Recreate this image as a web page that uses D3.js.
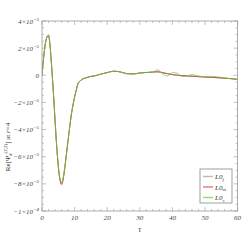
<!DOCTYPE html>
<html>
<head>
<meta charset="utf-8">
<script src="https://cdn.jsdelivr.net/npm/d3@7"></script>
<style>
  body { margin: 0; background: #fff; }
  text { font-family: "Liberation Serif", "DejaVu Serif", serif; font-style: italic; }
</style>
</head>
<body>
<div id="chart"></div>
<script>
// values in units of 1e-5
const tau = [0, 0.5, 1, 1.5, 2, 2.5, 3, 3.5, 4, 4.5, 5, 5.5, 6, 6.5, 7, 7.5, 8, 8.5, 9, 9.5, 10, 10.5, 11, 12, 13, 14, 15, 16, 18, 20, 22, 24, 26, 28, 30, 33, 34, 35.5, 37, 38.5, 40, 41.5, 43, 44.5, 46, 48, 50, 52, 55, 58, 60];
const L0f = [0, 1.3, 2.3, 2.8, 2.95, 2.1, 0.5, -1.3, -3.3, -5.2, -6.7, -7.65, -7.95, -7.6, -6.8, -5.8, -4.8, -3.8, -2.9, -2.2, -1.6, -1.1, -0.65, -0.35, -0.22, -0.15, -0.08, -0.05, 0.08, 0.2, 0.3, 0.25, 0.12, 0.1, 0.17, 0.22, 0.24, 0.25, 0.18, 0.12, 0.05, 0.0, -0.02, -0.05, -0.07, -0.1, -0.13, -0.15, -0.2, -0.25, -0.3];
const L0m = [0, 1.3, 2.3, 2.8, 2.95, 2.1, 0.5, -1.3, -3.3, -5.2, -6.7, -7.7, -8.05, -7.65, -6.8, -5.8, -4.8, -3.8, -2.9, -2.2, -1.6, -1.1, -0.65, -0.35, -0.22, -0.15, -0.08, -0.05, 0.08, 0.2, 0.3, 0.25, 0.12, 0.1, 0.17, 0.22, 0.24, 0.26, 0.2, 0.12, 0.05, 0.0, -0.02, -0.05, -0.07, -0.1, -0.13, -0.15, -0.2, -0.25, -0.3];
const L0s = [0, 1.3, 2.3, 2.8, 2.95, 2.1, 0.5, -1.3, -3.3, -5.2, -6.7, -7.6, -7.9, -7.55, -6.8, -5.8, -4.8, -3.8, -2.9, -2.2, -1.6, -1.1, -0.65, -0.35, -0.22, -0.15, -0.08, -0.05, 0.08, 0.2, 0.3, 0.25, 0.12, 0.1, 0.17, 0.22, 0.25, 0.4, 0.1, -0.05, 0.2, 0.15, -0.1, -0.05, 0.05, -0.05, -0.1, -0.08, -0.15, -0.25, -0.3];

const xTicks = [0, 10, 20, 30, 40, 50, 60];
const yTicks = [4, 2, 0, -2, -4, -6, -8, -10];
const yTickLabels = [["4\u00d710", "\u22125"], ["2\u00d710", "\u22125"], ["0", ""], ["\u22122\u00d710", "\u22125"], ["\u22124\u00d710", "\u22125"], ["\u22126\u00d710", "\u22125"], ["\u22128\u00d710", "\u22125"], ["\u22121\u00d710", "\u22124"]];

const seriesNames = [["L0", "f"], ["L0", "m"], ["L0", "s"]];
const seriesData = [L0f, L0m, L0s];
const colors = ["#aaaaaa", "#e06060", "#70dd40"];
const lineColors = ["#999999", "#c84848", "#66cc33"];

const W = 251, H = 240;
const margin = { top: 21, right: 13.4, bottom: 29, left: 42 };
const width = W - margin.left - margin.right;
const height = H - margin.top - margin.bottom;

const svg = d3.select("#chart").append("svg")
  .attr("width", W).attr("height", H);
const g = svg.append("g").attr("transform", `translate(${margin.left},${margin.top})`);

const x = d3.scaleLinear().domain([0, 60]).range([0, width]);
const y = d3.scaleLinear().domain([-10, 4]).range([height, 0]);

g.append("defs").append("clipPath").attr("id", "clip")
  .append("rect").attr("width", width).attr("height", height);

// lines
const line = d3.line().x((d, i) => x(tau[i])).y(d => y(d)).curve(d3.curveMonotoneX);
seriesData.forEach((s, k) => {
  g.append("path")
    .datum(s)
    .attr("clip-path", "url(#clip)")
    .attr("fill", "none")
    .attr("stroke", lineColors[k])
    .attr("stroke-opacity", k == 2 ? 0.75 : 0.9)
    .attr("stroke-width", 1)
    .attr("d", line);
});

// frame
const frameColor = "#999";
g.append("rect").attr("width", width).attr("height", height)
  .attr("fill", "none").attr("stroke", frameColor).attr("stroke-width", 0.8);

// x ticks (bottom + top, inward)
const xMinor = d3.range(0, 61, 2);
xMinor.forEach(v => {
  const major = v % 10 == 0;
  const len = major ? 4 : 2;
  g.append("line").attr("x1", x(v)).attr("x2", x(v)).attr("y1", height).attr("y2", height - len)
    .attr("stroke", frameColor).attr("stroke-width", 0.6);
  g.append("line").attr("x1", x(v)).attr("x2", x(v)).attr("y1", 0).attr("y2", len)
    .attr("stroke", frameColor).attr("stroke-width", 0.6);
});
xTicks.forEach(v => {
  g.append("text").attr("x", x(v)).attr("y", height + 9)
    .attr("text-anchor", "middle").attr("font-size", 7).attr("fill", "#444").text(v);
});

// y ticks (left + right)
const yMinor = d3.range(-10, 4.01, 0.5);
yMinor.forEach(v => {
  const major = Math.abs(v % 2) < 1e-9;
  const len = major ? 4 : 2;
  g.append("line").attr("x1", 0).attr("x2", len).attr("y1", y(v)).attr("y2", y(v))
    .attr("stroke", frameColor).attr("stroke-width", 0.6);
  g.append("line").attr("x1", width).attr("x2", width - len).attr("y1", y(v)).attr("y2", y(v))
    .attr("stroke", frameColor).attr("stroke-width", 0.6);
});
yTicks.forEach((v, i) => {
  const t = g.append("text").attr("x", -3).attr("y", y(v) + 2.5)
    .attr("text-anchor", "end").attr("font-size", 7).attr("fill", "#444");
  t.append("tspan").text(yTickLabels[i][0]);
  if (yTickLabels[i][1]) {
    t.append("tspan").attr("dy", -3).attr("font-size", 5).text(yTickLabels[i][1]);
  }
});

// axis labels
svg.append("text").attr("x", margin.left + x(30)).attr("y", 232)
  .attr("text-anchor", "middle").attr("font-size", 8).attr("fill", "#444").text("\u03c4");

const yl = svg.append("text").attr("transform", "translate(10,147) rotate(-90)")
  .attr("text-anchor", "middle").attr("font-size", 7).attr("fill", "#333")
  .style("font-style", "normal");
yl.append("tspan").text("Re[\u03a8");
yl.append("tspan").attr("dy", 1.5).attr("font-size", 5).style("font-style", "italic").text("4");
yl.append("tspan").attr("dy", -5).attr("font-size", 5).text("(2,2)");
yl.append("tspan").attr("dy", 3.5).text("] at ");
yl.append("tspan").style("font-style", "italic").text("r");
yl.append("tspan").text("=4");

// legend
const lg = svg.append("g").attr("transform", "translate(200,169)");
lg.append("rect").attr("width", 32).attr("height", 34)
  .attr("fill", "#fff").attr("stroke", "#888").attr("stroke-width", 0.8);
seriesNames.forEach((n, i) => {
  const yy = 7.5 + i * 10.5;
  lg.append("line").attr("x1", 3).attr("x2", 13).attr("y1", yy).attr("y2", yy)
    .attr("stroke", colors[i]).attr("stroke-width", 1.5).attr("stroke-opacity", 0.8);
  const t = lg.append("text").attr("x", 15).attr("y", yy + 2.5)
    .attr("font-size", 7).attr("fill", "#333");
  t.append("tspan").text(n[0]);
  t.append("tspan").attr("dy", 1.5).attr("font-size", 5).text(n[1]);
});
</script>
</body>
</html>
